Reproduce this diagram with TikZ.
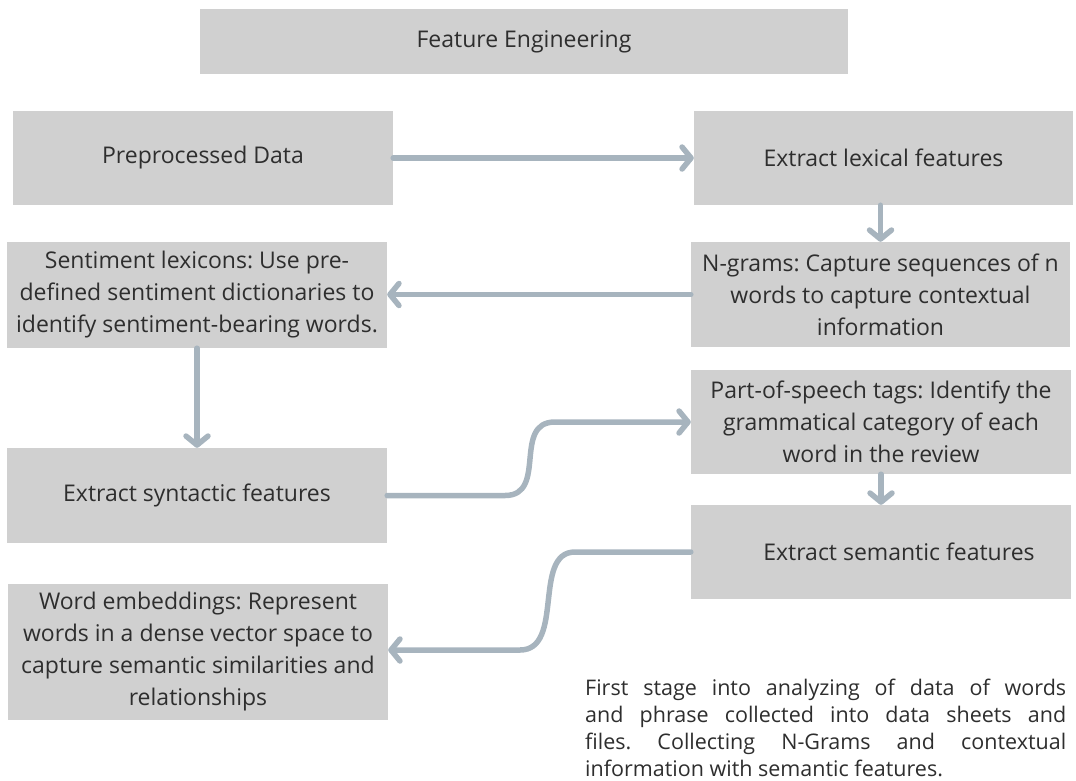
\documentclass[tikz,border=0pt]{standalone}
\usepackage{fontspec}
\setmainfont{Open Sans}
\usetikzlibrary{arrows.meta,calc}
\definecolor{boxgray}{HTML}{D0D0D0}
\definecolor{linkgray}{HTML}{A7B4BE}
\definecolor{inkgray}{HTML}{2E2E2E}
\frenchspacing
\tikzset{
  stagebox/.style={fill=boxgray, draw=none, text=inkgray, align=center,
    font=\fontsize{23}{32}\selectfont, inner sep=0pt,
    minimum width=380pt},
  link/.style={draw=linkgray, line width=5.5pt, line cap=round,
    -{Straight Barb[length=9pt,width=22pt,round]}},
  note/.style={text=inkgray, align=justify, text width=481pt,
    font=\fontsize{21.5}{27}\selectfont, inner sep=0pt}
}
\begin{document}
\begin{tikzpicture}[x=1pt,y=-1pt]
\useasboundingbox (0,0) rectangle (1076,780);

% stages
\node[stagebox, minimum width=648pt, minimum height=65pt] (title) at (524,41.5) {Feature Engineering};
\node[stagebox, minimum height=94pt] (pre) at (203,158) {Preprocessed Data};
\node[stagebox, minimum width=379pt, minimum height=94pt] (lex) at (883.5,158) {Extract lexical features};
\node[stagebox, minimum height=106pt] (sent) at (197,295)
  {Sentiment lexicons: Use pre-\\defined sentiment dictionaries to\\identify sentiment-bearing words.};
\node[stagebox, minimum width=379pt, minimum height=105pt] (ngram) at (880.5,294.5)
  {N-grams: Capture sequences of n\\words to capture contextual\\information};
\node[stagebox, minimum height=95pt] (syn) at (197,495.5) {Extract syntactic features};
\node[stagebox, minimum height=104pt] (pos) at (881,422)
  {Part-of-speech tags: Identify the\\grammatical category of each\\word in the review};
\node[stagebox, minimum height=94pt] (sem) at (881,552) {\hspace*{36pt}Extract semantic features};
\node[stagebox, minimum height=136pt] (word) at (198,652)
  {Word embeddings: Represent\\words in a dense vector space to\\capture semantic similarities and\\relationships};

% explanatory note
\node[note, anchor=north west] (para) at (585,679)
  {First stage into analyzing of data of words\linebreak
   and phrase collected into data sheets and\linebreak
   files. Collecting N-Grams and contextual\linebreak
   information with semantic features.};

% flow
\draw[link] (pre.east) -- (lex.west);
\draw[link] (ngram.north |- lex.south) -- (ngram.north);
\draw[link] (ngram.west) -- (sent.east |- ngram.west);
\draw[link] (sent.south) -- (syn.north);
\draw[link] (syn.east) -- (505,495.5)
  .. controls (548,495.5) and (512,422) .. (555,422) -- (pos.west);
\draw[link] (pos.south) -- (sem.north);
\draw[link] (sem.west) -- (575,552)
  .. controls (532,552) and (565,650) .. (520,650) -- (word.east |- 0,650);
\end{tikzpicture}
\end{document}
